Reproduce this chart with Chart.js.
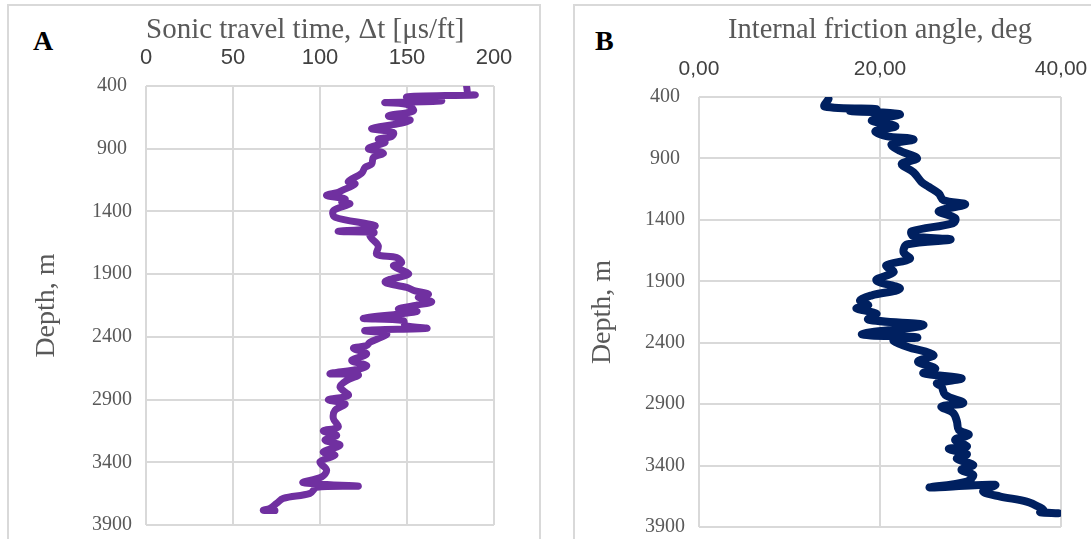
<!DOCTYPE html>
<html>
<head>
<meta charset="utf-8">
<script src="https://cdn.jsdelivr.net/npm/chart.js@4.4.1/dist/chart.umd.min.js"></script>
<style>
  html, body { margin:0; padding:0; background:#fff; }
  body { width:1091px; height:539px; position:relative; overflow:hidden; }
  .box { position:absolute; border:2px solid #d9d9d9; box-sizing:border-box; }
  .lab { position:absolute; font-family:"Liberation Serif", serif; font-weight:bold; font-size:28px; color:#000; line-height:1; }
  canvas { position:absolute; top:0; }
</style>
</head>
<body>
<div class="box" style="left:7px; top:4px; width:534px; height:545px;"></div>
<div class="box" style="left:573px; top:4px; width:530px; height:545px;"></div>
<div class="lab" style="left:33px; top:27px;">A</div>
<div class="lab" style="left:595px; top:27px;">B</div>
<div style="position:absolute;left:0;top:0;width:560px;height:539px;"><canvas id="cA"></canvas></div>
<div style="position:absolute;left:560px;top:0;width:531px;height:539px;"><canvas id="cB"></canvas></div>
<script>
// ---- data ----
const depthTicks = [400, 900, 1400, 1900, 2400, 2900, 3400, 3900];
const sonicTicks = [0, 50, 100, 150, 200];
const frictionTicks = [0, 20, 40];
const frictionTickLabels = ['0,00', '20,00', '40,00'];

const sonicDepth = [408, 466, 471, 487, 519, 532, 546, 599, 638, 670, 696, 739, 771, 802, 824, 850, 898, 935, 969, 1022, 1049, 1094, 1162, 1181, 1234, 1247, 1273, 1300, 1326, 1340, 1393, 1446, 1512, 1538, 1559, 1568,
  1596, 1675, 1742, 1768, 1808, 1834, 1874, 1900, 1961, 2006, 2033, 2059, 2086, 2120, 2147, 2178, 2199, 2252, 2271, 2311, 2332, 2350, 2377, 2403, 2443, 2469, 2491, 2536, 2589, 2628, 2655, 2694, 2703,
  2748, 2801, 2867, 2901, 2933, 2986, 3052, 3118, 3150, 3185, 3224, 3264, 3317, 3344, 3396, 3463, 3516, 3563, 3590, 3600, 3648, 3688, 3727, 3767, 3783, 3785];
const sonicValues = [184.3, 185.3, 189.1, 149.8, 169.9, 137.4, 149.8, 153.6, 139.3, 151.7, 146.9, 129.7, 142.2, 141.2, 133.5, 137.4, 127.8, 136.4, 130.7, 129.7, 125.9, 124.0, 116.3, 120.1, 112.5, 110.5, 103.8, 114.4, 112.5, 117.2, 107.7, 108.6, 131.6, 128.7, 110.5, 131.0,
  128.7, 133.5, 132.6, 144.1, 146.9, 142.2, 147.9, 150.8, 137.4, 149.8, 154.6, 162.3, 156.5, 164.2, 155.6, 145.0, 155.6, 124.9, 147.9, 148.9, 161.3, 125.9, 138.3, 135.4, 128.7, 126.8, 119.2, 126.8, 118.2, 126.8, 123.0, 105.7, 122.0,
  115.3, 111.5, 116.3, 104.8, 114.4, 108.6, 107.7, 110.5, 101.9, 109.6, 102.9, 111.5, 101.9, 108.6, 100.0, 103.8, 101.0, 90.4, 122.0, 98.1, 94.3, 78.9, 75.1, 71.3, 67.4, 74.1];

const frictionDepth = [418, 477, 499, 517, 525, 544, 590, 638, 678, 718, 745, 785, 838, 900, 945, 1012, 1092, 1132, 1186, 1239, 1274, 1328, 1386, 1426, 1493, 1533, 1560,
  1600, 1663, 1717, 1771, 1825, 1892, 1960, 2014, 2055, 2095, 2122, 2163, 2211, 2257, 2330, 2357, 2379, 2433, 2500, 2555, 2609, 2649, 2690, 2730,
  2756, 2824, 2891, 2919, 2973, 3041, 3109, 3150, 3190, 3245, 3264, 3307, 3345, 3394, 3435, 3476, 3530, 3579, 3557, 3611, 3652, 3693, 3742, 3769, 3780, 3788];
const frictionValues = [14.3, 13.9, 19.6, 16.7, 20.0, 22.2, 19.1, 21.7, 19.5, 20.7, 23.7, 21.3, 22.2, 24.1, 22.4, 23.7, 24.6, 25.4, 26.5, 27.0, 29.4, 26.5, 28.3, 28.1, 23.5, 23.7, 27.8,
  23.0, 22.6, 23.3, 20.7, 21.5, 19.6, 22.2, 19.1, 17.8, 18.7, 17.4, 19.6, 18.7, 24.8, 18.0, 24.1, 21.5, 23.0, 25.9, 24.2, 26.1, 24.8, 29.0, 26.3,
  26.8, 27.2, 29.2, 26.8, 28.1, 28.5, 28.7, 29.8, 28.3, 29.6, 27.6, 29.6, 28.5, 30.3, 29.0, 30.3, 29.6, 25.5, 32.7, 31.4, 33.3, 36.2, 37.7, 38.1, 37.7, 39.7];

// ---- chart builder ----
const serif = '"Liberation Serif", serif';
const sans = '"Liberation Sans", sans-serif';
const gridCol = '#d9d9d9';

function makeChart(id, xs, ys, color, lw, xMax, xTicks, xLabelFn, title, titleAlign, titleSize, plot, canvasW, xTickSize) {
  const pts = xs.map((v, i) => ({ x: v, y: ys[i] }));
  return new Chart(document.getElementById(id), {
    type: 'scatter',
    data: { datasets: [{ data: pts, showLine: true, borderColor: color, backgroundColor: color, borderWidth: lw, pointRadius: 0, tension: 0.35, borderCapStyle: 'round', borderJoinStyle: 'round' }] },
    options: {
      responsive: true, maintainAspectRatio: false, animation: false,
      layout: { padding: { left: 0, top: 0, right: canvasW - plot.right, bottom: 539 - plot.bottom } },
      plugins: { legend: { display: false }, tooltip: { enabled: false } },
      scales: {
        x: {
          type: 'linear', position: 'top', min: 0, max: xMax,
          afterBuildTicks: s => { s.ticks = xTicks.map(v => ({ value: v })); },
          afterFit: s => { s.height = plot.top; s.paddingLeft = 0; s.paddingRight = 0; },
          grid: { color: gridCol, lineWidth: 2, drawTicks: false },
          border: { display: false },
          ticks: { color: '#404040', font: { family: sans, size: xTickSize }, padding: 15, maxRotation: 0, callback: xLabelFn },
          title: { display: true, text: title, align: titleAlign, color: '#595959', font: { family: serif, size: titleSize }, padding: { top: 13, bottom: 0 } }
        },
        y: {
          type: 'linear', reverse: true, min: 400, max: 3900,
          afterBuildTicks: s => { s.ticks = depthTicks.map(v => ({ value: v })); },
          afterFit: s => { s.width = plot.left; s.paddingTop = 0; s.paddingBottom = 0; },
          grid: { color: gridCol, lineWidth: 2, drawTicks: false },
          border: { display: false },
          ticks: { color: '#595959', font: { family: serif, size: 20 }, padding: 14, crossAlign: 'center', callback: v => String(v) },
          title: { display: true, text: 'Depth, m', color: '#595959', font: { family: serif, size: 28 }, padding: { top: plot.yTitle - 17, bottom: 0 } }
        }
      }
    }
  });
}

makeChart('cA', sonicValues, sonicDepth, '#7030A0', 7, 200, sonicTicks, v => String(v),
  'Sonic travel time, \u0394t [\u03bcs/ft]', 'start', 29, { left: 146, top: 86, right: 494, bottom: 525, yTitle: 47 }, 560, 22);
makeChart('cB', frictionValues, frictionDepth, '#002060', 8, 40, frictionTicks,
  v => frictionTickLabels[frictionTicks.indexOf(v)], 'Internal friction angle, deg', 'center', 28.5,
  { left: 139, top: 97, right: 501, bottom: 527, yTitle: 43 }, 531, 21);
</script>
</body>
</html>
